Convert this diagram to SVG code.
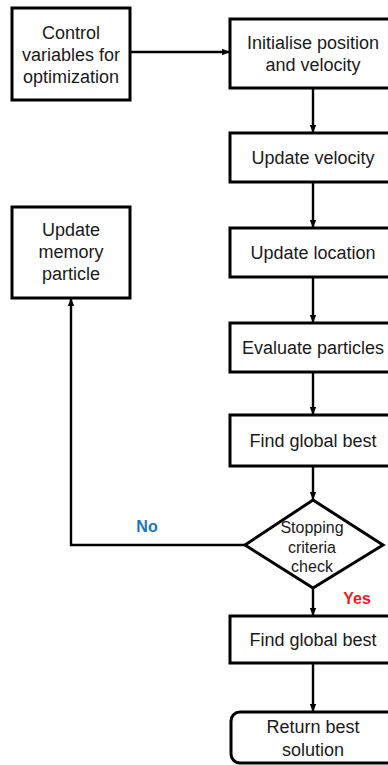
<svg xmlns="http://www.w3.org/2000/svg" width="388" height="765" viewBox="0 0 388 765">
  <style>
    .box { fill: #ffffff; stroke: #000000; stroke-width: 3; }
    .lbl { font-family: "Liberation Sans", Arial, sans-serif; font-size: 18px; fill: #1a1a1a; text-anchor: middle; }
    .dlbl { font-family: "Liberation Sans", Arial, sans-serif; font-size: 16px; fill: #1a1a1a; text-anchor: middle; }
    .edge { fill: none; stroke: #000000; stroke-width: 2.4; marker-end: url(#arrow); }
    .no { font-family: "Liberation Sans", Arial, sans-serif; font-size: 16px; font-weight: bold; fill: #1c72bd; text-anchor: middle; }
    .yes { font-family: "Liberation Sans", Arial, sans-serif; font-size: 16px; font-weight: bold; fill: #ee1c1c; text-anchor: middle; }
  </style>
  <defs>
    <marker id="arrow" viewBox="0 0 8 8" refX="8" refY="4" markerWidth="8" markerHeight="8" markerUnits="userSpaceOnUse" orient="auto">
      <path d="M0,0.8 L8,4 L0,7.2 Z" fill="#000000"/>
    </marker>
  </defs>
  <rect width="388" height="765" fill="#ffffff"/>

  <g id="connectors">
    <path class="edge" d="M130,52 H230"/>
    <path class="edge" d="M313,88 V133"/>
    <path class="edge" d="M313,182 V228"/>
    <path class="edge" d="M313,277 V323"/>
    <path class="edge" d="M313,372 V415"/>
    <path class="edge" d="M313,466 V500"/>
    <path class="edge" d="M313,588 V616"/>
    <path class="edge" d="M313,663 V712"/>
    <path class="edge" d="M245,545 H71 V298"/>
    <text class="no" x="147" y="532">No</text>
    <text class="yes" x="357" y="604">Yes</text>
  </g>

  <g id="control-variables">
    <rect class="box" x="12" y="8" width="118" height="92"/>
    <text class="lbl" x="71" y="39">Control</text>
    <text class="lbl" x="71" y="61">variables for</text>
    <text class="lbl" x="71" y="83">optimization</text>
  </g>

  <g id="initialise">
    <rect class="box" x="230" y="19" width="166" height="69"/>
    <text class="lbl" x="313" y="49">Initialise position</text>
    <text class="lbl" x="313" y="71">and velocity</text>
  </g>

  <g id="update-velocity">
    <rect class="box" x="230" y="133" width="166" height="49"/>
    <text class="lbl" x="313" y="164">Update velocity</text>
  </g>

  <g id="update-memory">
    <rect class="box" x="12" y="207" width="118" height="91"/>
    <text class="lbl" x="71" y="236">Update</text>
    <text class="lbl" x="71" y="258">memory</text>
    <text class="lbl" x="71" y="280">particle</text>
  </g>

  <g id="update-location">
    <rect class="box" x="230" y="228" width="166" height="49"/>
    <text class="lbl" x="313" y="259">Update location</text>
  </g>

  <g id="evaluate">
    <rect class="box" x="230" y="323" width="166" height="49"/>
    <text class="lbl" x="313" y="354">Evaluate particles</text>
  </g>

  <g id="global-best-1">
    <rect class="box" x="230" y="415" width="166" height="51"/>
    <text class="lbl" x="313" y="447">Find global best</text>
  </g>

  <g id="stopping-check">
    <polygon class="box" points="313,500 383,545 313,588 245,545"/>
    <text class="dlbl" x="312" y="533">Stopping</text>
    <text class="dlbl" x="312" y="553">criteria</text>
    <text class="dlbl" x="312" y="572">check</text>
  </g>

  <g id="global-best-2">
    <rect class="box" x="230" y="616" width="166" height="47"/>
    <text class="lbl" x="313" y="646">Find global best</text>
  </g>

  <g id="return-best">
    <rect class="box" x="231" y="712" width="166" height="51" rx="9"/>
    <text class="lbl" x="313" y="733">Return best</text>
    <text class="lbl" x="313" y="756">solution</text>
  </g>
</svg>
